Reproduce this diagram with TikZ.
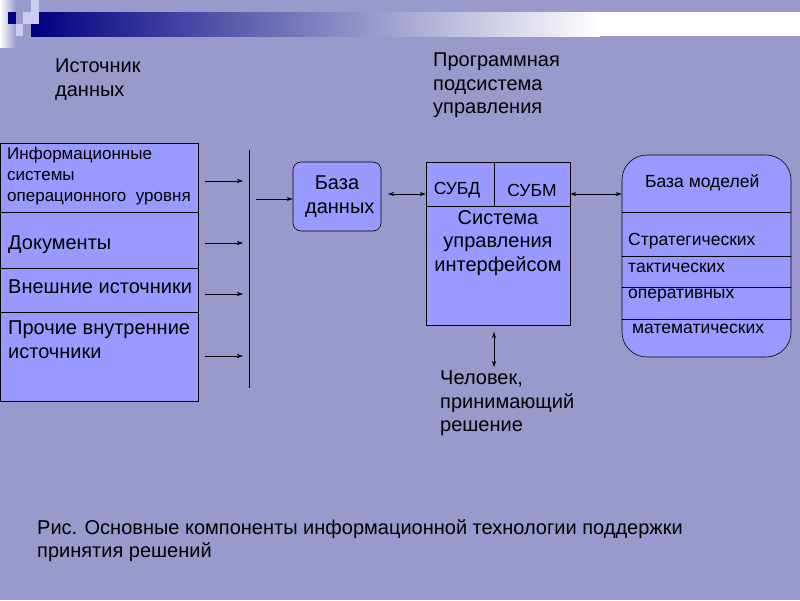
\documentclass[tikz,border=0pt]{standalone}
\usepackage{fontspec}
\setmainfont{Liberation Sans}
\definecolor{bg}{HTML}{9999CC}
\definecolor{bx}{HTML}{9999FF}
\definecolor{nv}{HTML}{000080}
\definecolor{lt}{HTML}{CCCCEE}
\tikzset{x=1pt,y=-1pt,
 box/.style={draw=black,fill=bx,line width=0.6pt},
 arr/.style={-{Stealth[length=6pt,width=4pt]},line width=0.6pt},
 darr/.style={{Stealth[length=6pt,width=4pt]}-{Stealth[length=6pt,width=4pt]},line width=0.6pt},
 lbl/.style={anchor=north west,align=left,inner sep=0pt},
 sml/.style={font=\fontsize{17.5}{21}\selectfont},
 big/.style={font=\fontsize{20}{23.5}\selectfont},
 mid/.style={font=\fontsize{17.5}{21}\selectfont}}
\usetikzlibrary{arrows.meta}
\begin{document}
\begin{tikzpicture}
\fill[bg] (0,0) rectangle (800,600);
\useasboundingbox (0,0) rectangle (800,600);
% banner
\shade[left color=nv,right color=white] (31,12) rectangle (600,36);
\fill[white] (600,12) rectangle (800,36);
\shade[left color=white,right color=bg] (0,0) rectangle (16,47);
\fill[nv] (8,12) rectangle (16,24);
\fill[lt] (16,24) rectangle (23,36);
\fill[lt] (23,12) rectangle (39,24);
\fill[lt] (31,0) rectangle (39,12);
% titles
\node[lbl,big] (t1) at (55,59) {Источник\\данных};
\node[lbl,big] (t2) at (433,53) {Программная\\подсистема\\управления};
\node[lbl,big] (t3) at (440,371) {Человек,\\принимающий\\решение};
\node[lbl,big] (cap) at (37,519) {Рис. Основные компоненты информационной технологии поддержки\\принятия решений};
% left
\draw[box] (0,143) rectangle (198,401);
\draw (0,212) -- (198,212) (0,268) -- (198,268) (0,312) -- (198,312);
\node[lbl,font=\fontsize{17}{21}\selectfont] (s1) at (7,147) {Информационные\\системы\\операционного\ \ уровня};
\node[lbl,big] (s2) at (8,236) {Документы};
\node[lbl,big] (s3) at (8,280) {Внешние источники};
\node[lbl,big] (s4) at (8,321) {Прочие внутренние\\источники};
\foreach \y/\n in {181/a,243/b,294/c,356/d}{
 \coordinate (\n1) at (205,\y); \coordinate (\n2) at (243,\y);
 \draw[arr] (\n1) -- (\n2);}
\coordinate (v1) at (249,150); \coordinate (v2) at (249,388);
\draw[line width=0.8pt] (v1) -- (v2);
\node[box,rounded corners=8pt,minimum width=88pt,minimum height=69pt,align=center,big] (db) at (337,196.5) {База\\\ данных};
\coordinate (e1) at (256,199);
\draw[arr] (e1) -- (db.west|-e1);
% middle
\node[box,minimum width=144pt,minimum height=163pt] (ms) at (498,243.5) {};
\draw (426,206) -- (570,206) (494,162) -- (494,206);
\node[mid] (subd) at (457,190) {СУБД};
\node[mid] (subm) at (532,190) {СУБМ};
\node[big,align=center,anchor=north,inner sep=0pt] (sui) at (498,210) {Система\\управления\\интерфейсом};
\draw[darr] (388,194) -- (ms.west|-0,194);
% right
\node[box,rounded corners=25pt,minimum width=169pt,minimum height=202pt] (mb) at (706.5,256) {};
\draw (622,212) -- (791,212) (622,256) -- (791,256) (622,287) -- (791,287) (622,319) -- (791,319);
\node[lbl,sml] (m0) at (645,174) {База моделей};
\node[lbl,sml] (m1) at (628,233) {Стратегических};
\node[lbl,sml] (m2) at (628,263) {тактических};
\node[lbl,sml] (m3) at (628,289) {оперативных};
\node[lbl,sml] (m4) at (632,324) {математических};
\draw[darr] (ms.east|-0,194) -- (mb.west|-0,194);
\coordinate (h) at (494,367);
\draw[darr] (h) -- (494,332);
\end{tikzpicture}
\end{document}
